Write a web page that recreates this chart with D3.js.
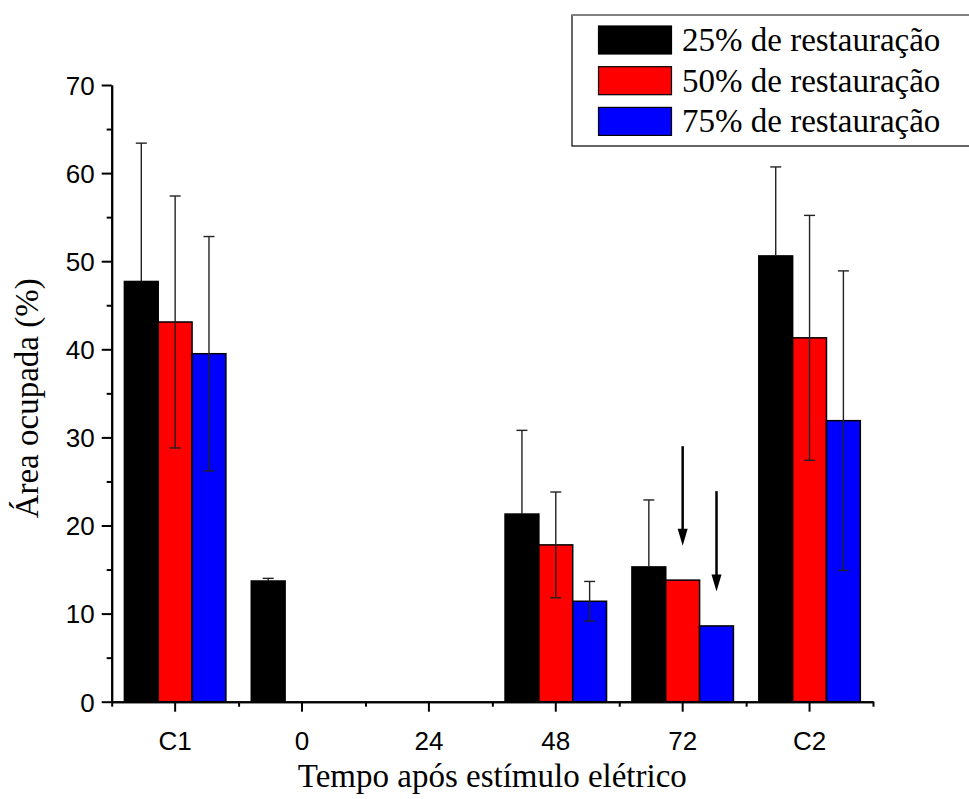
<!DOCTYPE html>
<html>
<head>
<meta charset="utf-8">
<style>
    body { margin: 0; background: #fff; }
    .tick text { font-family: 'Liberation Sans', Arial, sans-serif; font-size: 26px; fill: #000; }
    .axis path, .axis line { stroke: #000; stroke-width: 2px; }
    .title { font-family: 'Liberation Serif', 'Times New Roman', serif; font-size: 33px; fill: #000; }
    .legend text { font-family: 'Liberation Serif', 'Times New Roman', serif; font-size: 33px; fill: #000; }
    .err { stroke: #222; stroke-width: 1.4px; fill: none; }
</style>
</head>
<body>
<svg id="chart" width="969" height="799"></svg>
<script src="https://cdn.jsdelivr.net/npm/d3@7"></script>
<script>
    // data
    var categories = ['C1', '0', '24', '48', '72', 'C2'];
    var seriesNames = ['25% de restauração', '50% de restauração', '75% de restauração'];
    var colors = ['#000000', '#ff0000', '#0000ff'];
    var r25 = [47.7, 13.7, 0, 21.3, 15.3, 50.6];
    var r50 = [43.1, 0, 0, 17.8, 13.8, 41.3];
    var r75 = [39.5, 0, 0, 11.4, 8.6, 31.9];
    var e25 = [15.7, 0.3, 0, 9.5, 7.6, 10.1];
    var e50 = [14.3, 0, 0, 6.0, 0, 13.9];
    var e75 = [13.3, 0, 0, 2.25, 0, 17.0];
    var yTicks = [0, 10, 20, 30, 40, 50, 60, 70];
    var yMinor = [5, 15, 25, 35, 45, 55, 65];
    // arrows over the 72 group: [category, series, from, to]
    var arrows = [['72', 1, 29.0, 17.7], ['72', 2, 23.9, 12.5]];

    var values = [r25, r50, r75];
    var errors = [e25, e50, e75];

    var gLeft = 111.7, gRight = 873, gTop = 85, gBottom = 701.7;

    var svg = d3.select('#chart');
    svg.append('rect').attr('width', 969).attr('height', 799).attr('fill', '#fff');

    var x = d3.scaleBand().domain(categories).range([gLeft, gRight]).padding(0);
    var xs = d3.scaleBand().domain(d3.range(3))
        .range([x.bandwidth() * 0.1, x.bandwidth() * 0.9]).padding(0);
    var xEdge = d3.scaleLinear().domain([0, categories.length]).range([gLeft, gRight]);
    var y = d3.scaleLinear().domain([0, 70]).range([gBottom, gTop]);

    // bars
    var bars = [];
    values.forEach(function(vals, s) {
        vals.forEach(function(v, i) {
            if (v > 0) bars.push({cat: categories[i], s: s, v: v, e: errors[s][i]});
        });
    });

    svg.append('g').selectAll('rect').data(bars).enter().append('rect')
        .attr('x', function(d){ return x(d.cat) + xs(d.s); })
        .attr('y', function(d){ return y(d.v); })
        .attr('width', xs.bandwidth())
        .attr('height', function(d){ return y(0) - y(d.v); })
        .attr('fill', function(d){ return colors[d.s]; })
        .attr('stroke', '#000')
        .attr('stroke-width', 1.5);

    // error bars (lower half hidden inside the black bars)
    var eg = svg.append('g');
    bars.filter(function(d){ return d.e > 0; }).forEach(function(d) {
        var cx = x(d.cat) + xs(d.s) + xs.bandwidth() / 2;
        var capW = 5.5;
        var lo = d.s > 0 ? d.v - d.e : d.v;
        eg.append('line').attr('class', 'err')
            .attr('x1', cx).attr('x2', cx)
            .attr('y1', y(lo)).attr('y2', y(d.v + d.e));
        eg.append('line').attr('class', 'err')
            .attr('x1', cx - capW).attr('x2', cx + capW)
            .attr('y1', y(d.v + d.e)).attr('y2', y(d.v + d.e));
        if (d.s > 0) {
            eg.append('line').attr('class', 'err')
                .attr('x1', cx - capW).attr('x2', cx + capW)
                .attr('y1', y(lo)).attr('y2', y(lo));
        }
    });

    // arrows
    arrows.forEach(function(a) {
        var cx = x(a[0]) + xs(a[1]) + xs.bandwidth() / 2;
        var y1 = y(a[2]), y2 = y(a[3]);
        svg.append('line')
            .attr('x1', cx).attr('x2', cx)
            .attr('y1', y1).attr('y2', y2 - 12)
            .attr('stroke', '#000').attr('stroke-width', 2.5);
        svg.append('path')
            .attr('d', 'M' + (cx - 5) + ',' + (y2 - 17) + 'L' + (cx + 5) + ',' + (y2 - 17) + 'L' + cx + ',' + y2 + 'Z')
            .attr('fill', '#000');
    });

    // y axis
    svg.append('g').attr('class', 'axis')
        .attr('transform', 'translate(' + gLeft + ',0)')
        .call(d3.axisLeft(y).tickValues(yMinor).tickSize(5).tickSizeOuter(0).tickFormat(''));
    var ya = svg.append('g').attr('class', 'axis')
        .attr('transform', 'translate(' + gLeft + ',0)')
        .call(d3.axisLeft(y).tickValues(yTicks).tickSize(10).tickSizeOuter(0).tickPadding(7));
    ya.selectAll('.tick text').attr('dy', '0.36em');

    // x axis
    svg.append('g').attr('class', 'axis')
        .attr('transform', 'translate(0,' + gBottom + ')')
        .call(d3.axisBottom(xEdge).tickValues(d3.range(categories.length + 1)).tickSize(5).tickSizeOuter(0).tickFormat(''));
    svg.append('g').attr('class', 'axis')
        .attr('transform', 'translate(0,' + gBottom + ')')
        .call(d3.axisBottom(x).tickSize(10).tickSizeOuter(0).tickPadding(20));

    // axis titles
    svg.append('text').attr('class', 'title')
        .attr('transform', 'translate(38,' + ((gTop + gBottom) / 2 + 5) + ') rotate(-90)')
        .attr('text-anchor', 'middle')
        .text('Área ocupada (%)');
    svg.append('text').attr('class', 'title')
        .attr('x', (gLeft + gRight) / 2).attr('y', 787)
        .attr('text-anchor', 'middle')
        .text('Tempo após estímulo elétrico');

    // legend
    var lg = svg.append('g').attr('class', 'legend');
    lg.append('rect').attr('x', 572).attr('y', 15).attr('width', 420).attr('height', 131)
        .attr('fill', '#fff').attr('stroke', '#000').attr('stroke-width', 1.2);
    lg.append('line').attr('x1', 572).attr('x2', 969).attr('y1', 15).attr('y2', 15)
        .attr('stroke', '#808080').attr('stroke-width', 2);
    seriesNames.forEach(function(name, i) {
        var yy = 26 + i * 40.7;
        lg.append('rect').attr('x', 598.5).attr('y', yy).attr('width', 73).attr('height', 28)
            .attr('fill', colors[i]).attr('stroke', '#000').attr('stroke-width', 1.2);
        lg.append('text').attr('x', 682).attr('y', yy + 25).text(name);
    });
</script>
</body>
</html>
